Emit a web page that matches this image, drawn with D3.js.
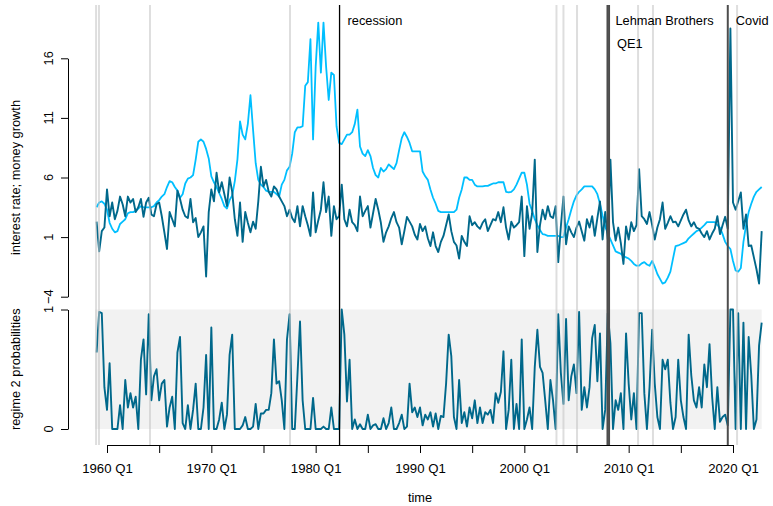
<!DOCTYPE html>
<html>
<head>
<meta charset="utf-8">
<script src="https://cdn.jsdelivr.net/npm/d3@7"></script>
<style>
  body { margin: 0; background: #fff; }
  svg { display: block; font-family: "Liberation Sans", Arial, Helvetica, sans-serif; }
</style>
</head>
<body>
<div id="chart"></div>
<script>
// quarterly series, first value = 1959 Q1
const startYear = 1959;

// interest rate (light blue)
const rateValues = [
  3.5, 3.9, 4.0, 3.8,   3.3, 2.2, 1.7, 1.4,   1.5, 2.1, 2.3, 2.5,   3.0, 3.1, 3.1, 3.2,
  3.4, 3.6, 3.5, 3.5,   3.5, 3.5, 3.6, 3.9,   4.1, 4.4, 4.6, 5.2,   5.7, 5.6, 5.2, 4.9,
  4.3, 4.6, 5.5, 5.9,   6.0, 6.2, 7.5, 9.0,   9.2, 9.0, 8.4, 7.6,   6.1, 5.6, 5.2, 4.7,
  4.2, 3.6, 3.4, 4.1,   4.5, 5.7, 7.5, 10.7,  9.6, 9.2, 10.5, 12.9, 10.0, 7.2, 5.8, 5.4,
  5.2, 4.9, 4.8, 4.8,   4.8, 4.6, 4.4, 5.4,   5.8, 6.6, 6.9, 8.0,   9.8, 10.2, 10.2, 10.3,
  13.7, 14.0, 17.6, 9.2, 15.3, 19.0, 14.8, 19.0, 15.3, 12.5, 14.8, 14.6, 10.3, 8.9, 8.8, 9.2,
  9.6, 9.6, 9.8, 10.5,  11.7, 8.6, 8.0, 7.8,  8.3, 7.8, 6.8, 6.2,   6.0, 6.8, 6.5, 6.7,
  7.1, 6.9, 6.7, 7.2,   8.3, 9.3, 9.8, 9.4,   8.9, 8.2, 8.2, 8.2,   8.2, 6.5, 6.1, 5.8,
  5.0, 4.3, 3.8, 3.2,   3.1, 3.1, 3.1, 3.1,   3.1, 3.1, 3.3, 4.3,   5.0, 6.0, 6.0, 5.8,
  5.8, 5.4, 5.25, 5.25, 5.25, 5.3, 5.3, 5.4, 5.5, 5.5, 5.6, 5.6,   5.6, 4.8, 4.75, 4.8,
  5.0, 5.4, 5.9, 6.4,   6.4, 5.4, 3.8, 3.2,   2.5, 2.0, 1.6, 1.25,  1.2, 1.1, 1.1, 1.1,
  1.1, 1.1, 1.0, 1.0,   1.8, 2.5, 3.3, 4.0,   4.5, 4.8, 5.0, 5.25,  5.25, 5.25, 5.25, 5.0,
  4.6, 3.8, 2.8, 1.9,   1.3, 0.8, 0.3, -0.2,  -0.3, -0.4, -0.6, -0.7, -0.8, -1.0, -1.25, -1.4,
  -1.4, -1.2, -1.1, -1.3, -1.4, -1.0, -1.5, -2.1, -2.5, -2.9, -2.8, -2.4, -1.9, -0.8, 0.25, 0.3,
  0.4, 0.5, 0.6, 0.9,   1.1, 1.3, 1.5, 1.6,   1.8, 2.0, 2.25, 2.25,  2.25, 2.25, 2.0, 1.8,
  1.25, 0.6, 0.25, 0.0, -1.0, -1.8, -1.9, -1.6, 0.6, 2.0, 3.1, 3.8,  4.4, 4.8, 5.0, 5.2
];

// money growth (dark blue)
const moneyValues = [
  2.3, -0.2, 1.5, 1.8, 5.0, 2.75, 3.9, 2.5, 3.2, 4.4, 3.75, 2.75, 4.4, 3.9, 4.2, 3.1,
  3.5, 4.2, 2.7, 3.9, 4.3, 2.9, 2.75, 3.75, 3.9, 2.75, 1.4, 0.0,
  3.1, 2.5, 1.9, 4.9, 4.2, 3.3, 2.75, 2.6, 4.2, 2.25, 2.6, 1.0, 1.4, 1.9, -2.3, 3.1,
  5.0, 4.0, 6.4, 4.75, 5.6, 4.6, 3.6, 6.0, 4.8, 2.5, 1.1, 3.9,
  0.6, 3.1, 2.2, 1.4, 2.3, 1.7, 4.0, 6.9, 5.25, 5.8, 4.8, 4.4, 5.25, 5.0, 4.4, 4.0,
  3.6, 2.75, 3.3, 2.6, 2.25, 3.6, 1.9, 3.6, 2.75, 2.0, 1.1, 4.75,
  1.4, 2.4, 3.3, 5.6, 3.1, 4.4, 1.1, 3.6, 2.5, 2.75, 5.4, 2.5, 1.9, 3.3, 2.25, 2.0,
  1.5, 4.4, 2.75, 3.2, 3.6, 1.8, 3.0, 4.2, 3.3, 2.2, 0.6, 1.4,
  1.9, 2.6, 3.1, 2.25, 1.8, 0.4, 1.5, 2.7, 2.3, 1.9, 1.2, 0.8, 2.1, 1.5, 1.9, 0.9,
  0.25, 1.4, 0.25, -0.25, 0.6, 1.1, 2.0, 2.9, 1.5, 0.6, 0.3, -0.8,
  1.1, 0.6, 0.25, 2.75, 2.0, 2.25, 1.9, 1.7, 2.2, 2.5, 1.5, 2.0, 2.5, 2.4, 3.1, 2.25,
  3.5, 1.8, 0.8, 2.3, 1.8, 2.0, 2.25, 4.4, -0.6, 3.6, 1.7, 3.0,
  7.5, -0.25, 2.0, 3.3, 2.5, 3.6, 2.75, 2.6, 3.6, -1.1, 1.9, 4.4, 0.4, 1.9, 1.4, 1.0,
  1.8, 2.3, 1.5, 0.7, 2.5, 1.8, 2.75, 1.1, 2.6, 4.0, 0.8, 3.1,
  0.8, 7.5, 2.25, 0.7, 1.8, 0.5, -1.25, 1.9, 0.8, 2.25, 1.5, 2.0, 6.7, 2.75, 2.5, 2.1,
  3.1, 2.0, 0.8, 1.8, 2.5, 3.9, 1.7, 2.2, 2.75, 2.25, 2.3, 1.9,
  2.4, 2.9, 3.3, 2.4, 1.9, 2.25, 1.8, 1.7, 1.3, 1.0, 1.5, 0.8, 1.3, 1.7, 2.75, 1.25,
  2.0, 2.7, 1.7, 18.5, 3.9, 3.3, 4.0, 4.75, 1.7, 2.9, 0.25, 0.3, -0.7, -1.7, -2.9, 1.5
];

// smoothed probability of regime 2
const regimeProb = [
  0.64, 0.98, 0.97, 0.35, 0.16, 0.55, 0.0, 0.0, 0.0, 0.2, 0.0, 0.41, 0.18, 0.3, 0.18, 0.27,
  0.0, 0.58, 0.75, 0.29, 0.96, 0.24, 0.44, 0.5, 0.24, 0.38, 0.41, 0.02,
  0.18, 0.27, 0.0, 0.64, 0.77, 0.05, 0.0, 0.2, 0.0, 0.16, 0.38, 0.0, 0.0, 0.18, 0.62, 0.0,
  0.85, 0.0, 0.0, 0.08, 0.22, 0.0, 0.12, 0.62, 0.79, 0.0, 0.0, 0.0,
  0.03, 0.1, 0.0, 0.0, 0.02, 0.21, 0.0, 0.13, 0.13, 0.16, 0.16, 0.3, 0.75, 0.38, 0.4, 0.24,
  0.0, 0.75, 0.96, 0.0, 0.0, 0.44, 0.9, 0.24, 0.0, 0.0, 0.0, 0.26,
  0.0, 0.0, 0.0, 0.02, 0.0, 0.0, 0.18, 0.0, 0.0, 0.0, 1.0, 0.79, 0.23, 0.58, 0.0, 0.08,
  0.0, 0.04, 0.0, 0.0, 0.12, 0.0, 0.03, 0.04, 0.0, 0.0, 0.09, 0.0,
  0.05, 0.18, 0.0, 0.0, 0.05, 0.12, 0.0, 0.02, 0.38, 0.14, 0.18, 0.1, 0.18, 0.03, 0.12, 0.08,
  0.14, 0.02, 0.13, 0.0, 0.11, 0.1, 0.38, 0.79, 0.61, 0.1, 0.0, 0.41,
  0.05, 0.14, 0.02, 0.18, 0.09, 0.24, 0.05, 0.18, 0.05, 0.14, 0.12, 0.16, 0.05, 0.3, 0.22, 0.31,
  0.65, 0.0, 0.16, 0.58, 0.0, 0.21, 0.0, 0.75, 0.0, 0.08, 0.18, 0.0,
  0.52, 0.83, 0.52, 0.47, 0.24, 0.0, 0.41, 0.24, 0.0, 0.96, 0.47, 0.21, 0.92, 0.24, 0.44, 0.54,
  0.3, 0.98, 0.16, 0.35, 0.18, 0.35, 0.76, 0.87, 0.4, 0.8, 0.0, 0.16,
  0.97, 0.72, 0.0, 0.24, 0.16, 0.3, 0.0, 0.8, 0.38, 0.08, 0.3, 0.0, 0.97, 0.97, 0.3, 0.0,
  0.35, 0.83, 0.38, 0.1, 0.0, 0.58, 0.5, 0.58, 0.22, 0.0, 0.1, 0.58,
  0.24, 0.1, 0.0, 0.79, 0.45, 0.24, 0.18, 0.35, 0.18, 0.54, 0.35, 0.71, 0.27, 0.0, 0.35, 0.06,
  0.1, 0.12, 0.03, 1.0, 1.0, 0.0, 0.97, 0.0, 0.89, 0.0, 0.77, 0.45, 0.0, 0.08, 0.7, 0.89
];

// light grey break lines (decimal years)
const breakDates = [1958.95, 1959.23, 1964.12, 1977.54, 2003.08, 2003.75, 2005.05, 2010.9, 2012.33, 2020.39];

// named events
const eventNames = ["recession", "Lehman Brothers", "QE1", "Covid"];
const eventDates = [1982.29, 2007.97, 2008.12, 2019.5];
const eventLabelRow = [0, 0, 1, 0];

const yTopTicks = [-4, 1, 6, 11, 16];
const yBottomTicks = [0, 1];
const xTickYears = [1960, 1965, 1970, 1975, 1980, 1985, 1990, 1995, 2000, 2005, 2010, 2015, 2020];
const xLabelYears = [1960, 1970, 1980, 1990, 2000, 2010, 2020];

const width = 773, height = 506;
const fontSize = 12.8;

const svg = d3.select("#chart").append("svg")
  .attr("width", width)
  .attr("height", height);

const x = d3.scaleLinear().domain([1960, 2020]).range([107, 733]);
const yTop = d3.scaleLinear().domain([-4, 16]).range([296.7, 58.3]);
const yBot = d3.scaleLinear().domain([0, 1]).range([429, 309.5]);

const dateAt = i => startYear + i / 4;
const lastDate = dateAt(rateValues.length - 1);

// grey band behind the probabilities
svg.append("rect")
  .attr("x", x(startYear) - 1.5)
  .attr("y", yBot(1))
  .attr("width", x(lastDate) - x(startYear) + 1.5)
  .attr("height", yBot(0) - yBot(1))
  .attr("fill", "#f2f2f2");

const topLine = d3.line().x((d, i) => x(dateAt(i))).y(d => yTop(d));
const botLine = d3.line().x((d, i) => x(dateAt(i))).y(d => yBot(d));

svg.append("path")
  .datum(rateValues)
  .attr("fill", "none")
  .attr("stroke", "#00bfff")
  .attr("stroke-width", 1.8)
  .attr("stroke-linejoin", "round")
  .attr("d", topLine);

svg.append("path")
  .datum(moneyValues)
  .attr("fill", "none")
  .attr("stroke", "#00688b")
  .attr("stroke-width", 1.9)
  .attr("stroke-linejoin", "round")
  .attr("d", topLine);

svg.append("path")
  .datum(regimeProb)
  .attr("fill", "none")
  .attr("stroke", "#00688b")
  .attr("stroke-width", 1.9)
  .attr("stroke-linejoin", "round")
  .attr("d", botLine);

// vertical markers across both panels
const vTop = 5, vBottom = 445;

svg.selectAll(".break-line")
  .data(breakDates)
  .join("line")
  .attr("class", "break-line")
  .attr("x1", d => x(d)).attr("x2", d => x(d))
  .attr("y1", vTop).attr("y2", vBottom)
  .attr("stroke", "rgba(195,195,195,0.55)")
  .attr("stroke-width", 2);

svg.selectAll(".event-line")
  .data(eventDates)
  .join("line")
  .attr("class", "event-line")
  .attr("x1", d => x(d)).attr("x2", d => x(d))
  .attr("y1", vTop).attr("y2", vBottom)
  .attr("stroke", (d, i) => i === 0 ? "#000" : "#4d4d4d")
  .attr("stroke-width", (d, i) => i === 0 ? 1.3 : 2);

svg.selectAll(".event-label")
  .data(eventNames)
  .join("text")
  .attr("class", "event-label")
  .attr("x", (d, i) => x(eventDates[i]) + 8)
  .attr("y", (d, i) => 25 + eventLabelRow[i] * 23)
  .attr("font-size", fontSize)
  .attr("fill", "#000")
  .text(d => d);

// axes
const yTopAxis = svg.append("g")
  .attr("transform", "translate(68,0)")
  .call(d3.axisLeft(yTop).tickValues(yTopTicks).tickSize(7).tickSizeOuter(0).tickFormat(""));

const yBotAxis = svg.append("g")
  .attr("transform", "translate(68,0)")
  .call(d3.axisLeft(yBot).tickValues(yBottomTicks).tickSize(7).tickSizeOuter(0).tickFormat(""));

// rotated tick labels, R style
svg.selectAll(".ytop-label")
  .data(yTopTicks)
  .join("text")
  .attr("class", "ytop-label")
  .attr("transform", d => `translate(53,${yTop(d)}) rotate(-90)`)
  .attr("text-anchor", "middle")
  .attr("font-size", fontSize)
  .text(d => d < 0 ? "\u2212" + Math.abs(d) : d);

svg.selectAll(".ybot-label")
  .data(yBottomTicks)
  .join("text")
  .attr("class", "ybot-label")
  .attr("transform", d => `translate(53,${yBot(d)}) rotate(-90)`)
  .attr("text-anchor", "middle")
  .attr("font-size", fontSize)
  .text(d => d);

const xAxis = svg.append("g")
  .attr("transform", "translate(0,445)")
  .call(d3.axisBottom(x)
    .tickValues(xTickYears)
    .tickSize(8)
    .tickSizeOuter(0)
    .tickPadding(11)
    .tickFormat(d => xLabelYears.includes(d) ? `${d} Q1` : ""));

[yTopAxis, yBotAxis].forEach(g => g.attr("font-family", null).attr("font-size", fontSize));
xAxis.attr("font-family", null).attr("font-size", 13.2);

// axis titles
svg.append("text")
  .attr("transform", `translate(20,${(yTop(-4) + yTop(16)) / 2}) rotate(-90)`)
  .attr("text-anchor", "middle")
  .attr("font-size", fontSize)
  .text("interest rate; money growth");

svg.append("text")
  .attr("transform", `translate(20,${(yBot(0) + yBot(1)) / 2}) rotate(-90)`)
  .attr("text-anchor", "middle")
  .attr("font-size", fontSize)
  .text("regime 2 probabilities");

svg.append("text")
  .attr("x", (x(1960) + x(2020)) / 2)
  .attr("y", 502)
  .attr("text-anchor", "middle")
  .attr("font-size", fontSize)
  .text("time");
</script>
</body>
</html>
